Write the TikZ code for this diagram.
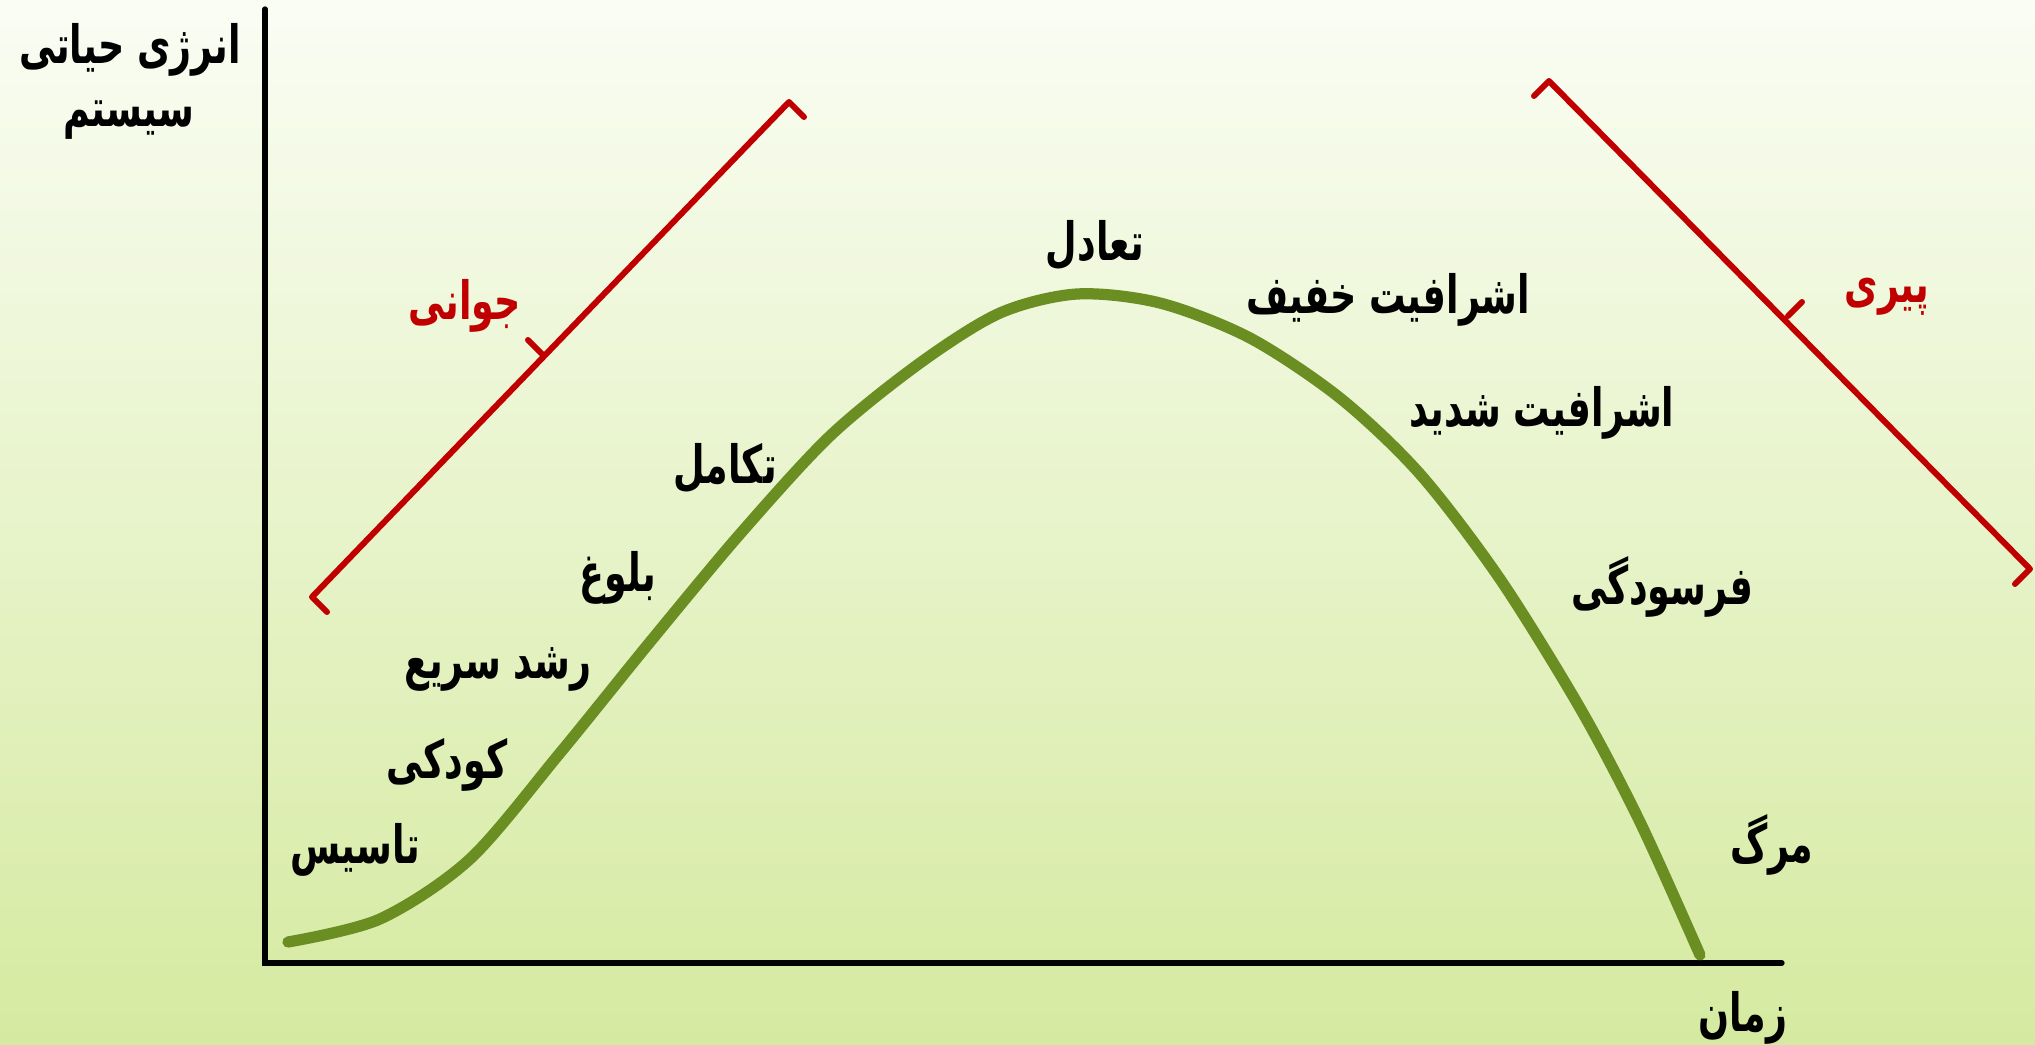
\documentclass[tikz,border=0pt]{standalone}
\usepackage{fontspec}
\newfontfamily\fafont[Script=Arabic, FakeStretch=0.69]{DejaVu Sans}
\TeXXeTstate=1
\definecolor{agered}{HTML}{C00000}
\definecolor{lifegreen}{HTML}{6B8E23}
\definecolor{bgtop}{HTML}{FAFDF4}
\definecolor{bgmid}{HTML}{F1F8E2}
\definecolor{bgbottom}{HTML}{D5EAA0}

\begin{document}
\begin{tikzpicture}[
    x=0.01cm, y=-0.01cm,
    axisline/.style={line width=1.5pt, line cap=round},
    phase/.style={draw=agered, line width=1.7pt, line cap=round, line join=round},
    life/.style={draw=lifegreen, line width=3.2pt, line cap=round},
    stage/.style={font=\fafont\bfseries\fontsize{15}{18}\selectfont, inner sep=0pt},
    agename/.style={stage, text=agered}
  ]
  % زمینه
  \useasboundingbox (0,0) rectangle (2035,1045);
  \shade[top color=bgtop, middle color=bgmid, bottom color=bgbottom] (0,0) rectangle (2035,1045);

  % محورها
  \coordinate (ytop) at (265,9);
  \coordinate (origin) at (265,963);
  \coordinate (xend) at (1782,963);
  \draw[axisline] (ytop) -- (origin) -- (xend);
  \node[stage] (energy1) at (130,50) {\beginR انرژی حیاتی\endR};
  \node[stage] (energy2) at (129,120) {\beginR سیستم\endR};
  \node[stage] (time) at (1743,1018) {\beginR زمان\endR};

  % منحنی چرخه عمر
  \draw[life] plot[smooth, tension=0.5] coordinates {
    (288,942) (380,919) (470,859) (560,753) (650,642) (740,534)
    (830,436) (920,363) (1000,313) (1077,294) (1160,303) (1250,338)
    (1340,398) (1420,474) (1500,579) (1580,708) (1640,822) (1700,955)};

  % جوانی
  \coordinate (youngB) at (312,597);
  \coordinate (youngT) at (789,102);
  \coordinate (youngM) at (542,354);
  \draw[phase] (youngB) ++(15,15) -- (youngB) -- (youngT) -- ++(15,15);
  \draw[phase] (youngM) -- ++(-14,-14);
  \node[agename] (young) at (465,306) {\beginR جوانی\endR};

  % پیری
  \coordinate (oldT) at (1549,81);
  \coordinate (oldB) at (2030,569);
  \coordinate (oldM) at (1788,316);
  \draw[phase] (oldT) ++(-15,15) -- (oldT) -- (oldB) -- ++(-15,15);
  \draw[phase] (oldM) -- ++(14,-14);
  \node[agename] (old) at (1887,297) {\beginR پیری\endR};

  % مراحل
  \node[stage] (s1) at (355,850) {\beginR تاسیس\endR};
  \node[stage] (s2) at (447,765) {\beginR کودکی\endR};
  \node[stage] (s3) at (498,669) {\beginR رشد سریع\endR};
  \node[stage] (s4) at (618,578) {\beginR بلوغ\endR};
  \node[stage] (s5) at (725,468) {\beginR تکامل\endR};
  \node[stage] (s6) at (1095,245) {\beginR تعادل\endR};
  \node[stage] (s7) at (1388,300) {\beginR اشرافیت خفیف\endR};
  \node[stage] (s8) at (1542,413) {\beginR اشرافیت شدید\endR};
  \node[stage] (s9) at (1662,587) {\beginR فرسودگی\endR};
  \node[stage] (s10) at (1772,845) {\beginR مرگ\endR};
\end{tikzpicture}
\end{document}
